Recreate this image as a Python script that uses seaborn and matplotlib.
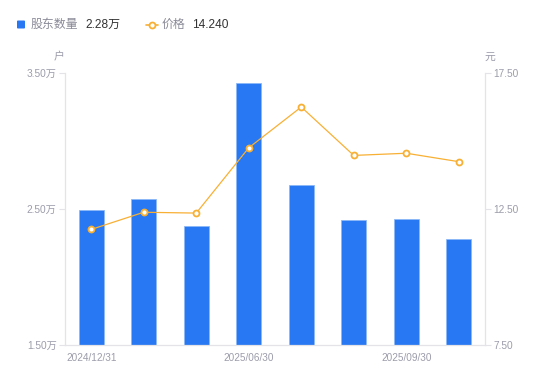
import matplotlib
matplotlib.use("Agg")
import matplotlib.pyplot as plt
from matplotlib.lines import Line2D
from matplotlib.patches import FancyBboxPatch
import seaborn as sns
import pandas as pd

dates = ["2024/12/31", "2025/03/31", "2025/04/30", "2025/06/30",
         "2025/07/31", "2025/08/29", "2025/09/30", "2025/10/31"]
holders = [2.49, 2.57, 2.375, 3.425, 2.675, 2.42, 2.425, 2.28]   # 万户
price = [11.75, 12.38, 12.35, 14.75, 16.25, 14.47, 14.55, 14.24]  # 元
shown_ticks = ["2024/12/31", "2025/06/30", "2025/09/30"]
left_ticks = [1.5, 2.5, 3.5]
right_ticks = [7.5, 12.5, 17.5]

df = pd.DataFrame({"date": dates, "holders": holders, "price": price})

sns.set_theme(style="white")
plt.rcParams["font.family"] = ["Liberation Sans", "Noto Sans CJK SC", "DejaVu Sans"]

BLUE = "#2778F2"
ORANGE = "#F8B034"
GRAY_T = "#9c9cab"
SPINE = "#e3e3e8"

fig = plt.figure(figsize=(5.5, 3.81), dpi=100)
ax = fig.add_axes([65/550, 1-345/381, 420/550, (345-73)/381])

sns.barplot(data=df, x="date", y="holders", order=dates, color=BLUE,
            width=0.48, saturation=1, edgecolor="#8db8f8", linewidth=0.6, ax=ax)
ax.set_ylim(1.5, 3.5)
ax.set_xlim(-0.5, len(dates) - 0.5)
ax.set_yticks(left_ticks)
ax.set_yticklabels([f"{v:.2f}万" for v in left_ticks])
ax.set_xticks(range(len(dates)))
ax.set_xticklabels([d if d in shown_ticks else "" for d in dates])
ax.set_xlabel("")
ax.set_ylabel("")
ax.tick_params(axis="y", left=True, length=4, width=0.8, color=SPINE,
               labelsize=7.3, labelcolor=GRAY_T, pad=2)
ax.tick_params(axis="x", bottom=False, length=0, labelsize=7.2,
               labelcolor=GRAY_T, pad=6)
for s in ["top", "right"]:
    ax.spines[s].set_visible(False)
for s in ["left", "bottom"]:
    ax.spines[s].set_color(SPINE)
    ax.spines[s].set_linewidth(0.9)

ax2 = ax.twinx()
sns.pointplot(data=df, x="date", y="price", order=dates, color=ORANGE,
              markers="o", linestyles="-", ax=ax2,
              markersize=4.3, markerfacecolor="white", markeredgewidth=1.3,
              markeredgecolor=ORANGE, linewidth=0.9)
ax2.set_ylim(7.5, 17.5)
ax2.set_xlim(-0.5, len(dates) - 0.5)
ax2.set_yticks(right_ticks)
ax2.set_yticklabels([f"{v:.2f}" for v in right_ticks])
ax2.set_ylabel("")
ax2.set_xlabel("")
ax2.tick_params(axis="y", right=True, length=4, width=0.8, color=SPINE,
                labelsize=7.3, labelcolor=GRAY_T, pad=2)
for s in ["top", "left", "bottom"]:
    ax2.spines[s].set_visible(False)
ax2.spines["right"].set_color(SPINE)
ax2.spines["right"].set_linewidth(0.9)

# unit labels
fig.text(59/550, 1-57/381, "户", ha="center", va="center", fontsize=7.8, color=GRAY_T)
fig.text(490/550, 1-57/381, "元", ha="center", va="center", fontsize=7.8, color=GRAY_T)

# legend
fig.add_artist(FancyBboxPatch((17/550, 1-28.5/381), 8/550, 8/381,
                              boxstyle="round,pad=0,rounding_size=0.002",
                              transform=fig.transFigure, facecolor=BLUE, edgecolor="none"))
fig.text(31/550, 1-24.5/381, "股东数量", ha="left", va="center", fontsize=8.6, color="#8a8a98")
fig.text(85/550, 1-24.5/381, f"{holders[-1]:.2f}万", ha="left", va="center", fontsize=8.6, color="#333333")
fig.add_artist(Line2D([146/550, 158/550], [1-24.5/381]*2, transform=fig.transFigure,
                      color=ORANGE, linewidth=1.2, marker="o", markevery=[0],
                      markersize=0))
fig.add_artist(Line2D([152/550], [1-24.5/381], transform=fig.transFigure,
                      color=ORANGE, marker="o", markersize=4.3, markerfacecolor="white",
                      markeredgewidth=1.3, linestyle="none"))
fig.text(162/550, 1-24.5/381, "价格", ha="left", va="center", fontsize=8.6, color="#8a8a98")
fig.text(192/550, 1-24.5/381, f"{price[-1]:.3f}", ha="left", va="center", fontsize=8.6, color="#333333")

fig.savefig("out.png", dpi=100)
